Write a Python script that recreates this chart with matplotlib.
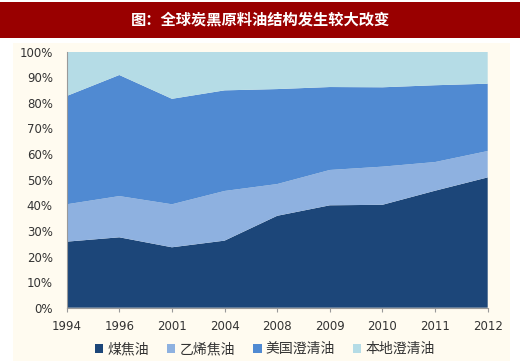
import matplotlib
matplotlib.use("Agg")
import matplotlib.pyplot as plt
from matplotlib.patches import Rectangle
import numpy as np

plt.rcParams['font.family'] = ['Noto Sans CJK SC', 'DejaVu Sans']

years = ["1994", "1996", "2001", "2004", "2008", "2009", "2010", "2011", "2012"]
coal_tar = [25.8, 27.5, 23.6, 26.2, 35.9, 40.0, 40.2, 45.7, 50.9]
ethylene_tar = [14.6, 16.1, 16.8, 19.4, 12.4, 13.8, 14.9, 11.2, 10.3]
us_clarified = [42.3, 47.3, 41.2, 39.3, 37.1, 32.4, 31.0, 30.0, 26.3]
local_clarified = [17.3, 9.1, 18.4, 15.1, 14.6, 13.8, 13.9, 13.1, 12.5]
names = ["煤焦油", "乙烯焦油", "美国澄清油", "本地澄清油"]
colors = ["#1C4679", "#8EB1E0", "#508AD2", "#B5DCE6"]

fig = plt.figure(figsize=(5.2, 3.62), dpi=100)
fig.patch.set_facecolor("white")

# cream panel and red title banner
fig.patches.append(Rectangle((13 / 520, 1 - 361 / 362), 497 / 520, 318 / 362,
                             transform=fig.transFigure, facecolor="#FFFBF0",
                             edgecolor="none", zorder=-10))
fig.patches.append(Rectangle((0, 1 - 37.5 / 362), 1, 36 / 362,
                             transform=fig.transFigure, facecolor="#990000",
                             edgecolor="none", zorder=-10))
fig.text(0.5, 1 - 19.5 / 362, "图：全球炭黑原料油结构发生较大改变", color="white",
         fontsize=11, fontweight="bold", ha="center", va="center")

ax = fig.add_axes([66.7 / 520, 1 - 307.7 / 362, 421 / 520, 256 / 362])
ax.set_facecolor("none")
x = np.arange(len(years))
ax.stackplot(x, coal_tar, ethylene_tar, us_clarified, local_clarified,
             colors=colors, labels=names, linewidth=0)
ax.set_xlim(0, len(years) - 1)
ax.set_ylim(0, 100)
ax.set_xticks(x)
ax.set_xticklabels(years, fontsize=8.5, color="#333333", family="DejaVu Sans")
ax.set_yticks(np.arange(0, 101, 10))
ax.set_yticklabels([f"{v}%" for v in range(0, 101, 10)], fontsize=8.5,
                   color="#333333", family="DejaVu Sans")
ax.tick_params(axis="x", length=3, color="#999999", pad=6)
ax.tick_params(axis="y", length=0, pad=10)
for s in ["top", "right"]:
    ax.spines[s].set_visible(False)
ax.spines["left"].set_color("#999999")
ax.spines["bottom"].set_color("#999999")

handles, labels = ax.get_legend_handles_labels()
fig.legend(handles, labels, loc="center", bbox_to_anchor=(265 / 520, 1 - 349 / 362),
           ncol=4, frameon=False, fontsize=10, handlelength=0.6, handleheight=0.6,
           handletextpad=0.3, columnspacing=1.3, labelcolor="#333333")

fig.savefig("out.png", dpi=100)
